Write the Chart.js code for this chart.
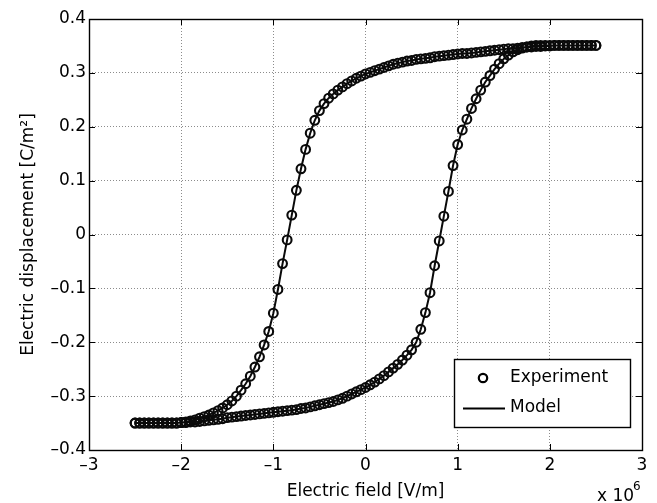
<!DOCTYPE html>
<html lang="en">
  <head>
    <meta charset="UTF-8" />
    <title>Hysteresis loop</title>
    <script src="https://cdn.jsdelivr.net/npm/chart.js"></script>
    <style>
      body { margin: 0; background: #ffffff; }
      canvas { display: block; }
    </style>
  </head>
  <body>
    <canvas id="loopChart" width="657" height="503"></canvas>

    <script>
      // electric field in units of 1e6 V/m, sweep from +2.5 down to -2.5
      const fieldDown = [
        2.5, 2.45, 2.4, 2.35, 2.3, 2.25, 2.2, 2.15, 2.1, 2.05,
        2, 1.95, 1.9, 1.85, 1.8, 1.75, 1.7, 1.65, 1.6, 1.55,
        1.5, 1.45, 1.4, 1.35, 1.3, 1.25, 1.2, 1.15, 1.1, 1.05,
        1, 0.95, 0.9, 0.85, 0.8, 0.75, 0.7, 0.65, 0.6, 0.55,
        0.5, 0.45, 0.4, 0.35, 0.3, 0.25, 0.2, 0.15, 0.1, 0.05,
        0, -0.05, -0.1, -0.15, -0.2, -0.25, -0.3, -0.35, -0.4, -0.45,
        -0.5, -0.55, -0.6, -0.65, -0.7, -0.75, -0.8, -0.85, -0.9, -0.95,
        -1, -1.05, -1.1, -1.15, -1.2, -1.25, -1.3, -1.35, -1.4, -1.45,
        -1.5, -1.55, -1.6, -1.65, -1.7, -1.75, -1.8, -1.85, -1.9, -1.95,
        -2, -2.05, -2.1, -2.15, -2.2, -2.25, -2.3, -2.35, -2.4, -2.45,
        -2.5
      ];
      const fieldUp = fieldDown.slice().reverse();

      // electric displacement [C/m^2], upper branch (field decreasing)
      const dispDown = [
        0.351, 0.351, 0.351, 0.351, 0.351, 0.351, 0.351, 0.351, 0.351, 0.351,
        0.350, 0.350, 0.349, 0.349, 0.348, 0.348, 0.347, 0.346, 0.345, 0.345,
        0.344, 0.343, 0.342, 0.341, 0.340, 0.339, 0.338, 0.337, 0.336, 0.336,
        0.335, 0.334, 0.333, 0.332, 0.331, 0.330, 0.328, 0.327, 0.326, 0.325,
        0.323, 0.322, 0.320, 0.318, 0.316, 0.313, 0.310, 0.307, 0.304, 0.301,
        0.298, 0.294, 0.290, 0.285, 0.280, 0.274, 0.268, 0.261, 0.253, 0.243,
        0.230, 0.212, 0.188, 0.158, 0.122, 0.082, 0.036, -0.010, -0.054, -0.102,
        -0.146, -0.180, -0.205, -0.227, -0.246, -0.263, -0.277, -0.289, -0.300, -0.309,
        -0.316, -0.322, -0.327, -0.331, -0.335, -0.338, -0.341, -0.344, -0.346, -0.348,
        -0.349, -0.350, -0.350, -0.350, -0.350, -0.350, -0.350, -0.350, -0.350, -0.350,
        -0.350
      ];

      // lower branch (field increasing from -2.5 to +2.5)
      const dispUp = [
        -0.350, -0.350, -0.350, -0.350, -0.350, -0.350, -0.350, -0.350, -0.350, -0.350,
        -0.349, -0.349, -0.348, -0.348, -0.347, -0.346, -0.345, -0.344, -0.343, -0.342,
        -0.340, -0.339, -0.338, -0.337, -0.336, -0.335, -0.334, -0.333, -0.332, -0.331,
        -0.330, -0.329, -0.328, -0.327, -0.326, -0.325, -0.323, -0.322, -0.320, -0.318,
        -0.316, -0.314, -0.312, -0.310, -0.307, -0.304, -0.300, -0.296, -0.292, -0.288,
        -0.284, -0.279, -0.274, -0.268, -0.262, -0.255, -0.248, -0.241, -0.233, -0.224,
        -0.214, -0.200, -0.176, -0.145, -0.108, -0.058, -0.012, 0.034, 0.080, 0.128,
        0.167, 0.194, 0.214, 0.234, 0.252, 0.268, 0.283, 0.295, 0.307, 0.317,
        0.326, 0.333, 0.339, 0.343, 0.346, 0.348, 0.350, 0.351, 0.351, 0.351,
        0.351, 0.351, 0.351, 0.351, 0.351, 0.351, 0.351, 0.351, 0.351, 0.351,
        0.351
      ];

      const seriesNames = ["Experiment", "Model"];
      const xTitle = "Electric field [V/m]";
      const yTitle = "Electric displacement [C/m\u00b2]";

      const FONT = '"DejaVu Sans", sans-serif';

      function toPoints(xs, ys) {
        return xs.map((v, i) => ({ x: v, y: ys[i] }));
      }
      const loop = toPoints(fieldDown, dispDown).concat(toPoints(fieldUp, dispUp));

      function dash(v) {
        return v < 0 ? "\u2013" + String(-v) : String(v);
      }

      // axes box, inward tick marks, legend and the exponent note
      const matlabFrame = {
        id: "matlabFrame",
        afterDraw(chart) {
          const { ctx, chartArea: a, scales } = chart;
          ctx.save();
          ctx.strokeStyle = "#000";
          ctx.lineWidth = 1;
          ctx.beginPath();
          scales.x.ticks.forEach((t) => {
            const px = Math.round(scales.x.getPixelForValue(t.value)) + 0.5;
            ctx.moveTo(px, a.bottom);
            ctx.lineTo(px, a.bottom - 6);
            ctx.moveTo(px, a.top);
            ctx.lineTo(px, a.top + 6);
          });
          scales.y.ticks.forEach((t) => {
            const py = Math.round(scales.y.getPixelForValue(t.value)) + 0.5;
            ctx.moveTo(a.left, py);
            ctx.lineTo(a.left + 6, py);
            ctx.moveTo(a.right, py);
            ctx.lineTo(a.right - 6, py);
          });
          ctx.stroke();
          ctx.lineWidth = 1.4;
          ctx.strokeRect(a.left + 0.5, a.top + 0.5, a.right - a.left, a.bottom - a.top);

          // legend
          ctx.fillStyle = "#fff";
          ctx.fillRect(454, 359, 176, 68);
          ctx.lineWidth = 1.4;
          ctx.strokeRect(454.5, 359.5, 176, 68);
          ctx.lineWidth = 2.2;
          ctx.beginPath();
          ctx.arc(483, 378, 4.2, 0, Math.PI * 2);
          ctx.stroke();
          ctx.lineWidth = 2;
          ctx.beginPath();
          ctx.moveTo(463, 408.5);
          ctx.lineTo(505, 408.5);
          ctx.stroke();
          ctx.fillStyle = "#000";
          ctx.font = "17px " + FONT;
          ctx.textBaseline = "middle";
          ctx.fillText(chart.data.datasets[0].label, 510, 378);
          ctx.fillText(chart.data.datasets[1].label, 510, 408);

          // x 10^6
          ctx.textBaseline = "alphabetic";
          ctx.fillText("x 10", 597, 501);
          ctx.font = "12px " + FONT;
          ctx.fillText("6", 633, 490);
          ctx.restore();
        },
      };

      const ctx = document.getElementById("loopChart").getContext("2d");
      const chart = new Chart(ctx, {
        type: "scatter",
        data: {
          datasets: [
            {
              label: seriesNames[0],
              data: loop,
              showLine: false,
              pointStyle: "circle",
              pointRadius: 4.4,
              pointBorderWidth: 2.1,
              pointBorderColor: "#0a0a0a",
              pointBackgroundColor: "rgba(0,0,0,0)",
              order: 2,
            },
            {
              label: seriesNames[1],
              data: loop,
              showLine: true,
              borderColor: "#0a0a0a",
              borderWidth: 2,
              pointRadius: 0,
              tension: 0,
              order: 1,
            },
          ],
        },
        options: {
          responsive: false,
          animation: false,
          events: [],
          layout: { padding: { left: 0, right: 15, top: 19, bottom: 0 } },
          plugins: {
            legend: { display: false },
            tooltip: { enabled: false },
          },
          scales: {
            x: {
              type: "linear",
              min: -3,
              max: 3,
              afterFit: (s) => { s.height = 53; },
              ticks: {
                stepSize: 1,
                padding: 5,
                color: "#000",
                font: { family: FONT, size: 17 },
                callback: (v) => dash(Math.round(v)),
              },
              grid: { color: "rgba(0,0,0,0.45)", drawTicks: false, lineWidth: 1 },
              border: { display: false, dash: [1, 2] },
              title: {
                display: true,
                text: xTitle,
                color: "#000",
                font: { family: FONT, size: 17 },
                padding: { top: 0, bottom: 1 },
              },
            },
            y: {
              type: "linear",
              min: -0.4,
              max: 0.4,
              afterFit: (s) => { s.width = 89; },
              ticks: {
                stepSize: 0.1,
                padding: 3,
                color: "#000",
                font: { family: FONT, size: 17 },
                callback: (v) => dash(Math.round(v * 10) / 10),
              },
              grid: { color: "rgba(0,0,0,0.45)", drawTicks: false, lineWidth: 1 },
              border: { display: false, dash: [1, 2] },
              title: {
                display: true,
                text: yTitle,
                color: "#000",
                font: { family: FONT, size: 17 },
                padding: { top: 18, bottom: 0 },
              },
            },
          },
        },
        plugins: [matlabFrame],
      });
    </script>
  </body>
</html>
